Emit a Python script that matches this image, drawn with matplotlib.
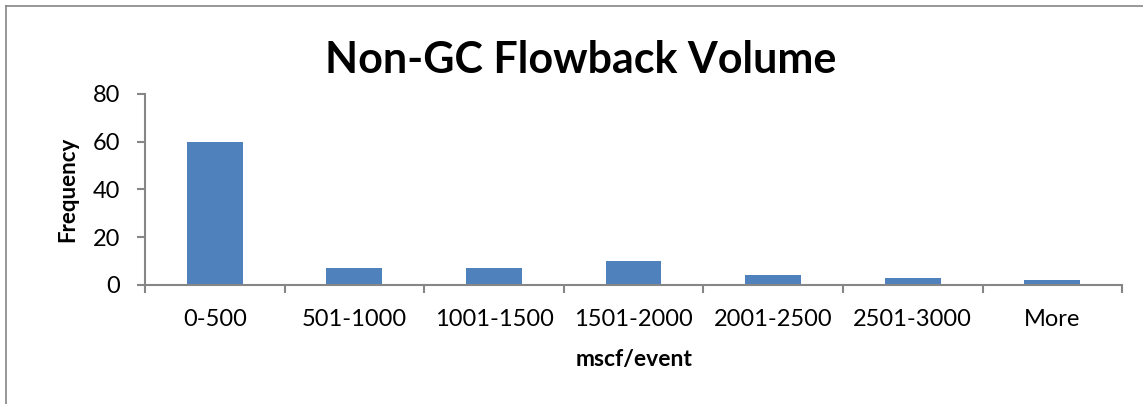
import matplotlib.pyplot as plt
import numpy as np

# Data
bins = ['0-500', '501-1000', '1001-1500', '1501-2000', '2001-2500', '2501-3000', 'More']
frequency = [60, 7, 7, 10, 4, 3, 2]

plt.rcParams['font.family'] = ['Lato', 'DejaVu Sans']

fig = plt.figure(figsize=(11.43, 4.04), dpi=100)
ax = fig.add_axes([0.1269, 0.2946, 0.8548, 0.4728])

x = np.arange(len(bins))
ax.bar(x, frequency, width=0.4, color='#4F81BD', zorder=2)

ax.set_xlim(-0.5, len(bins) - 0.5)
ax.set_ylim(0, 80)
ax.set_yticks([0, 20, 40, 60, 80])

grey = '#868686'
for s in ['top', 'right']:
    ax.spines[s].set_visible(False)
for s in ['left', 'bottom']:
    ax.spines[s].set_color(grey)
    ax.spines[s].set_linewidth(1.5)

ax.set_xticks(x)
ax.set_xticklabels(bins)
ax.set_xticks(np.arange(len(bins) + 1) - 0.5, minor=True)
ax.tick_params(axis='x', which='major', length=0, pad=17, labelsize=17)
ax.tick_params(axis='x', which='minor', length=6, width=1.5, color=grey, direction='out')
ax.tick_params(axis='y', length=6, width=1.5, color=grey, direction='out', pad=12, labelsize=17)

ax.set_xlabel('mscf/event', fontsize=16.5, fontweight='bold', labelpad=14)
ax.set_ylabel('Frequency', fontsize=16, fontweight='bold', labelpad=10)

fig.text(581 / 1143, 1 - 60 / 404, 'Non-GC Flowback Volume', fontsize=31, fontweight='bold',
         ha='center', va='center')

# chart border (left and top visible)
fig.add_artist(plt.Line2D([6 / 1143, 6 / 1143], [0, 1 - 6 / 404], transform=fig.transFigure,
                          color=grey, lw=1.2))
fig.add_artist(plt.Line2D([6 / 1143, 1], [1 - 6 / 404, 1 - 6 / 404], transform=fig.transFigure,
                          color=grey, lw=1.2))

plt.savefig('out.png', dpi=100)
